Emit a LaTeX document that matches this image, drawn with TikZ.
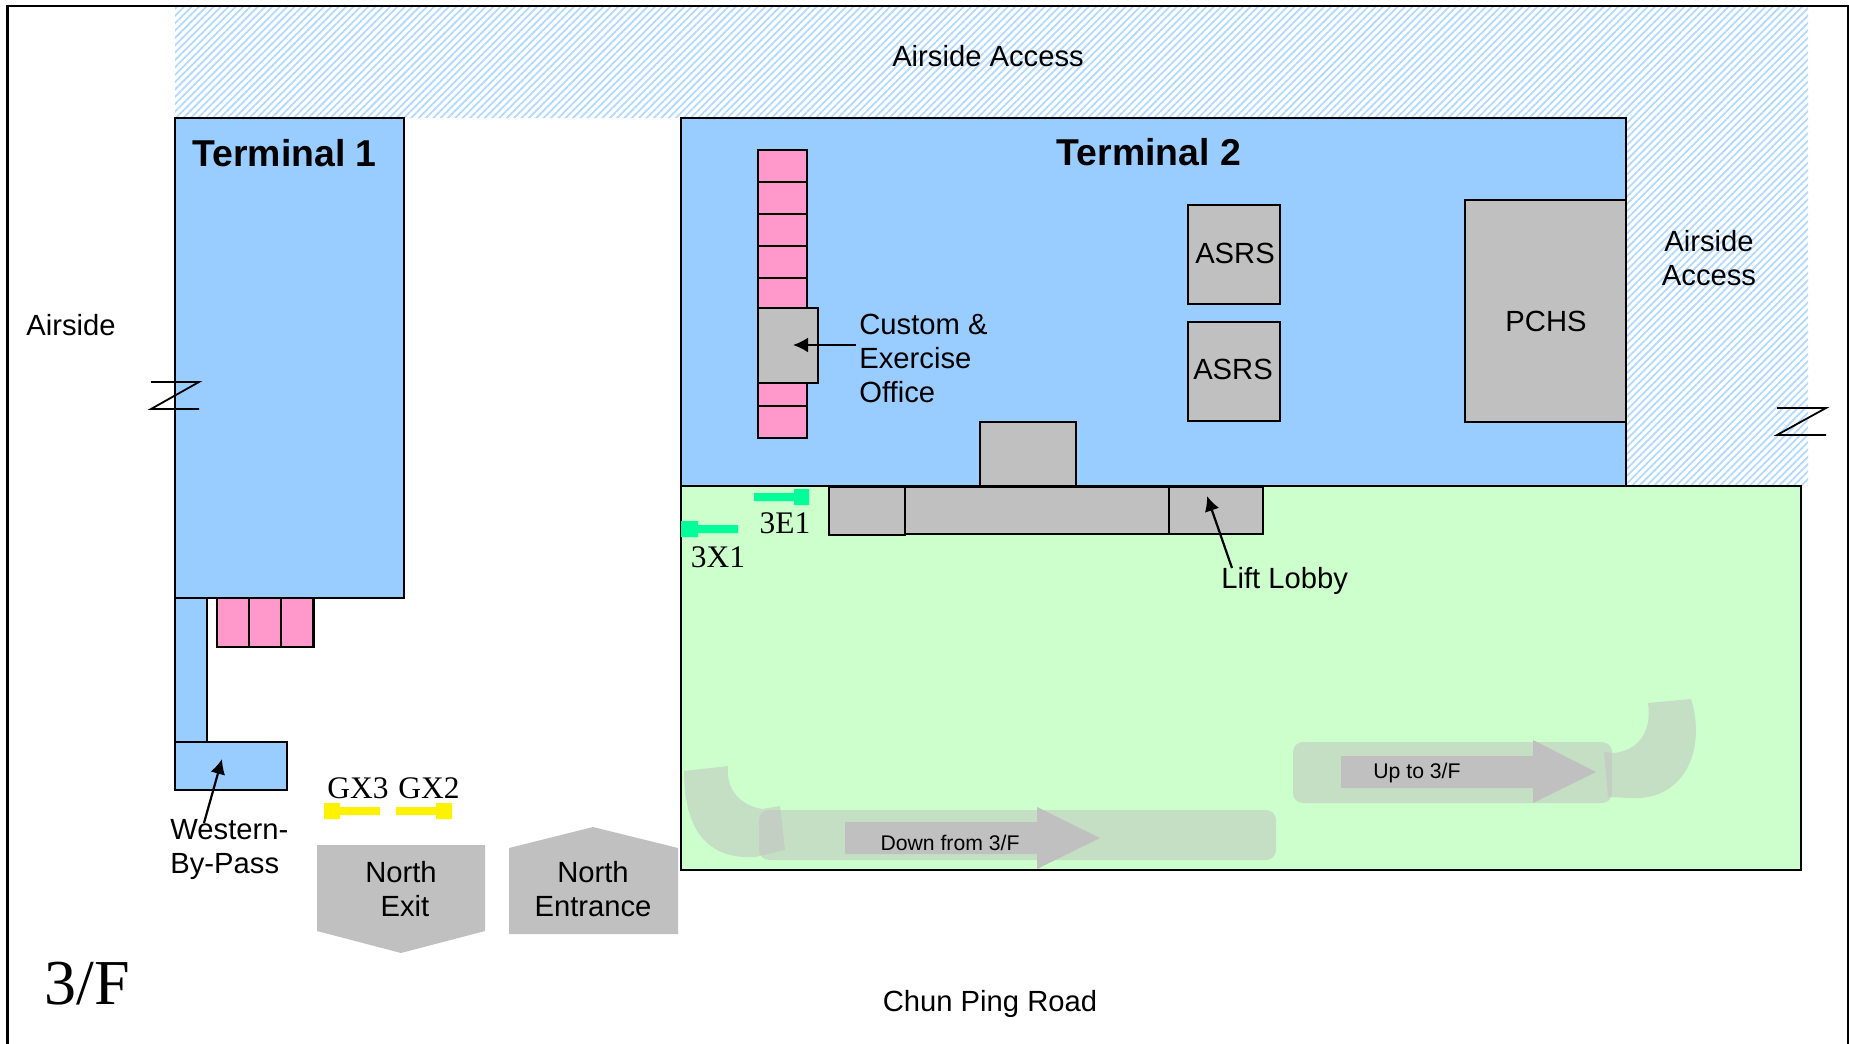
\documentclass[tikz,border=0pt]{standalone}
\usepackage{fontspec}
\setmainfont{Liberation Sans}
\newfontfamily\timesfont{Liberation Serif}
\usetikzlibrary{patterns.meta,arrows.meta}
\definecolor{hallblue}{HTML}{99CCFF}
\definecolor{hallgreen}{HTML}{CCFFCC}
\definecolor{boxgray}{HTML}{C0C0C0}
\definecolor{lanepink}{HTML}{FF99CC}
\definecolor{exitgreen}{HTML}{00FF99}
\tikzset{
  hall/.style={draw=black,line width=1.1pt,fill=hallblue},
  room/.style={draw=black,line width=1.1pt,fill=boxgray},
  lane/.style={draw=black,line width=1.1pt,fill=lanepink},
  ramp/.style={fill=boxgray,opacity=0.5},
  pointer/.style={-{Latex[length=7.5pt,width=7.5pt]},line width=1.1pt},
  label/.style={font=\fontsize{14.6}{17}\selectfont,align=center,inner sep=0pt},
  gate/.style={font=\timesfont\fontsize{15.7}{18}\selectfont,inner sep=0pt},
  small/.style={font=\fontsize{10.6}{12}\selectfont,inner sep=0pt}
}
\begin{document}
\begin{tikzpicture}[x=0.5pt,y=-0.5pt]
    \useasboundingbox (0,0) rectangle (1849,1044);
    % frame and hatched apron
    \draw[line width=1.1pt] (7.5,1044) -- (7.5,6) -- (1848,6) -- (1848,1044);
    \fill[pattern={Lines[angle=45,distance=2.6pt,line width=0.9pt]},pattern color=hallblue!75]
        (175,7) -- (1808,7) -- (1808,486) -- (1626,486) -- (1626,118) -- (175,118) -- cycle;
    % halls
    \draw[hall] (681,118) rectangle (1626,486);
    \draw[hall] (175,118) rectangle (404,598);
    \draw[hall] (175,598) rectangle (207,742);
    \draw[hall] (175,742) rectangle (287,790);
    \draw[draw=black,line width=1.1pt,fill=hallgreen] (681,486) rectangle (1801,870);
    % lanes
    \foreach \x in {217,249,281} \draw[lane] (\x,598) rectangle ++(32.5,49);
    \foreach \y in {150,182,214,246,278,310,342,374,406} \draw[lane] (758,\y) rectangle ++(49,32);
    % rooms
    \draw[room] (758,308) rectangle (818,383);
    \draw[room] (1188,205) rectangle (1280,304);
    \draw[room] (1188,322) rectangle (1280,421);
    \draw[room] (1465,200) rectangle (1626,422);
    \draw[room] (980,422) rectangle (1076,486);
    \draw[room] (829,487) rectangle (905,535);
    \draw[room] (905,487) rectangle (1169,534);
    \draw[room] (1169,487) rectangle (1263,534);
    % ramps
    \fill[ramp] (684,771) .. controls (684,820) and (700,860) .. (755,857) -- (785,850) -- (780,806) -- (762,809) .. controls (740,805) and (726,790) .. (728,766) -- cycle;
    \fill[ramp,rounded corners=5pt] (759,810) rectangle (1276,860);
    \fill[ramp] (1691,699) .. controls (1707,750) and (1684,802) .. (1629,798) -- (1608,797) -- (1604,752) -- (1614,753) .. controls (1640,750) and (1652,730) .. (1648,703) -- cycle;
    \fill[ramp,rounded corners=5pt] (1293,742) rectangle (1612,803);
    \fill[boxgray] (845,822) -- (1037,822) -- (1037,807) -- (1100,838) -- (1037,869) -- (1037,854) -- (845,854) -- cycle;
    \fill[boxgray] (1341,756) -- (1533,756) -- (1533,740) -- (1596,772) -- (1533,803) -- (1533,788) -- (1341,788) -- cycle;
    % exits
    \fill[boxgray] (317,845) -- (485,845) -- (485,931) -- (401,953) -- (317,931) -- cycle;
    \fill[boxgray] (509,848) -- (593,827) -- (678,848) -- (678,934) -- (509,934) -- cycle;
    % gate markers
    \fill[yellow] (324,803) rectangle (340,819) (340,807) rectangle (380,815);
    \fill[yellow] (396,807) rectangle (436,815) (436,803) rectangle (452,819);
    \fill[exitgreen] (754,493) rectangle (794,501) (794,489) rectangle (809,505);
    \fill[exitgreen] (681,521) rectangle (698,537) (698,525) rectangle (738,533);
    % north marks
    \draw[line width=0.9pt] (151,382) -- (199,382) -- (151,409) -- (199,409);
    \draw[line width=0.9pt] (1777,408) -- (1826,408) -- (1777,435) -- (1826,435);
    % texts
    \node[label] (airsideaccess) at (988,56) {Airside Access};
    \node[label] (airsideaccessb) at (1709,258) {Airside\\Access};
    \node[label] (airside) at (71,325) {Airside};
    \node[label] (roadname) at (990,1004) {Chun Ping Road};
    \node[label,font=\bfseries\fontsize{18.7}{22}\selectfont] (termone) at (284.5,153) {Terminal 1};
    \node[label,font=\bfseries\fontsize{18.7}{22}\selectfont] (termtwo) at (1149,152) {Terminal 2};
    \node[label] (asrsa) at (1235,253) {ASRS};
    \node[label] (asrsb) at (1233,369) {ASRS};
    \node[label] (pchs) at (1546,321) {PCHS};
    \node[label,align=left,anchor=west] (custom) at (859,358) {Custom \&\\Exercise\\Office};
    \node[label,anchor=west] (liftlobby) at (1221,581) {Lift Lobby};
    \node[label,align=left,anchor=west] (bypass) at (170,849) {Western-\\By-Pass};
    \node[label] (northexit) at (401,889) {North\\\hspace*{4pt}Exit};
    \node[label] (northin) at (593,889) {North\\Entrance};
    \node[gate] (gxthree) at (358,788) {GX3};
    \node[gate] (gxtwo) at (429,788) {GX2};
    \node[gate] (threee) at (785,523) {3E1};
    \node[gate] (threex) at (718,557) {3X1};
    \node[small] (downtxt) at (950,843) {Down from 3/F};
    \node[small] (uptxt) at (1417,773) {Up to 3/F};
    \node[anchor=base west,inner sep=0pt,font=\timesfont\fontsize{32}{36}\selectfont] (floorname) at (44,1004) {3/F};
    % pointers
    \coordinate (bypasstip) at (222,759);
    \coordinate (bypassend) at (204,823);
    \coordinate (lifttip) at (1207,496);
    \coordinate (liftend) at (1232,568);
    \coordinate (customtip) at (793,345);
    \coordinate (customend) at (856,345);
    \draw[pointer] (bypassend) -- (bypasstip);
    \draw[pointer] (liftend) -- (lifttip);
    \draw[pointer] (customend) -- (customtip);
\end{tikzpicture}
\end{document}
